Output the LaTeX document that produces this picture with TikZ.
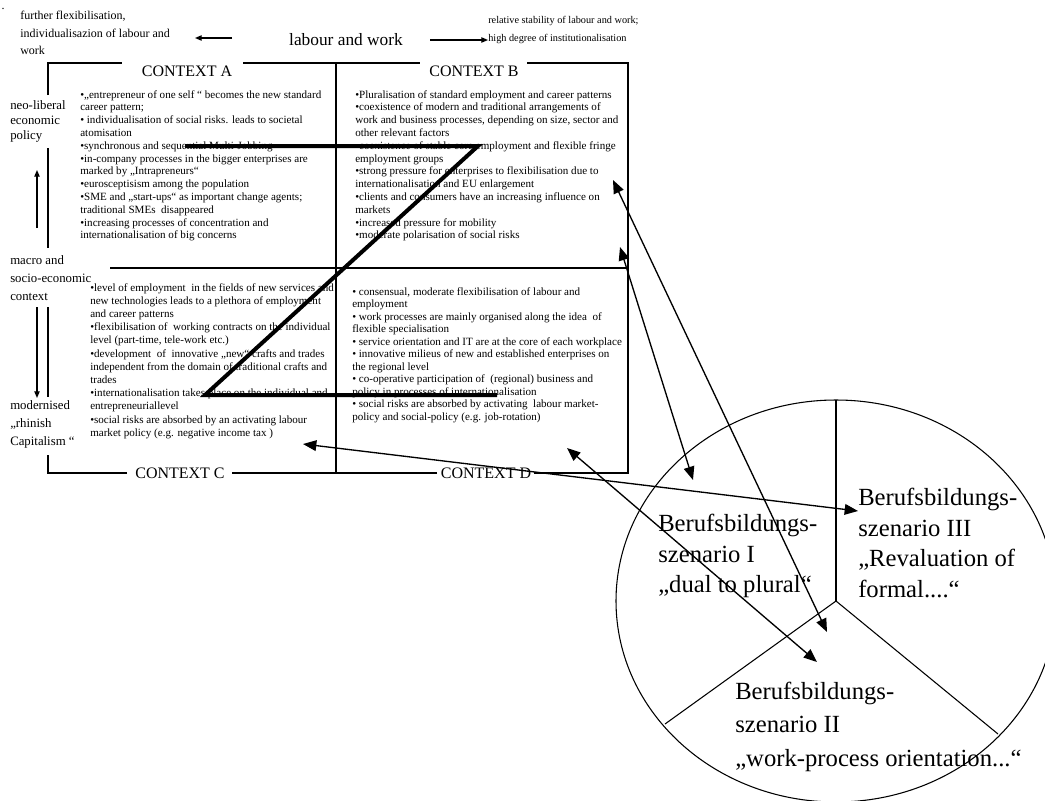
\documentclass[tikz,border=0pt]{standalone}
\usepackage{fontspec}
\setmainfont{Liberation Serif}
\usetikzlibrary{arrows.meta}

\tikzset{
  ctxText/.style={anchor=north west,inner sep=0pt,align=left,font=\fontsize{8.3}{9.6}\selectfont},
  ctxLabel/.style={inner sep=0pt,font=\fontsize{12}{14}\selectfont},
  sideText/.style={anchor=north west,inner sep=0pt,align=left,font=\fontsize{9.6}{13.5}\selectfont},
  topText/.style={anchor=north west,inner sep=0pt,align=left,font=\fontsize{9}{13}\selectfont},
  scenText/.style={anchor=north west,inner sep=0pt,align=left,font=\fontsize{18.5}{23}\selectfont},
  frameLine/.style={line width=1.2pt},
  smallArrow/.style={line width=0.9pt,-{Triangle[length=5pt,width=4pt]}},
  linkArrow/.style={line width=1pt,{Triangle[length=10pt,width=8pt]}-{Triangle[length=10pt,width=8pt]}}
}

\begin{document}
\begin{tikzpicture}[x=0.75pt,y=-0.75pt]
\useasboundingbox (0,0) rectangle (1045,800);

\node[inner sep=0pt,font=\fontsize{9}{10}\selectfont] (dot) at (3,9) {.};
\node[topText] (flexText) at (20,11) {further flexibilisation,\\individualisazion of labour and\\work};
\node[ctxLabel,font=\fontsize{13}{15}\selectfont] (labourWork) at (346,40) {labour and work};
\node[topText,font=\fontsize{7.7}{13.5}\selectfont] (stableText) at (488,16) {relative stability of labour and work;\\high degree of institutionalisation};
\coordinate (flexFrom) at (232,38);
\coordinate (flexTo) at (195,38);
\coordinate (stableFrom) at (430,40);
\coordinate (stableTo) at (488,40);
\draw[smallArrow] (flexFrom) -- (flexTo);
\draw[smallArrow] (stableFrom) -- (stableTo);

\node[ctxLabel] (ctxA) at (187,71) {CONTEXT A};
\node[ctxLabel] (ctxB) at (474,71) {CONTEXT B};
\node[ctxLabel] (ctxC) at (180,473) {CONTEXT C};
\node[ctxLabel] (ctxD) at (486,473) {CONTEXT D};

\draw[frameLine] (48,95) -- (48,63) -- (122,63);
\draw[frameLine] (243,63) -- (420,63);
\draw[frameLine] (527,63) -- (628,63) -- (628,473) -- (534,473);
\draw[frameLine] (437,473) -- (232,473);
\draw[frameLine] (127,473) -- (48,473) -- (48,455);
\draw[frameLine] (48,148) -- (48,248);
\draw[frameLine] (48,307) -- (48,397);
\draw[frameLine] (336,63) -- (336,473);
\draw[frameLine] (110,268) -- (628,268);

\node[sideText,font=\fontsize{9.6}{11.2}\selectfont] (neoLib) at (10,100) {neo-liberal\\economic\\policy};
\node[sideText] (macro) at (10,255) {macro and\\socio-economic\\context};
\node[sideText] (rhine) at (10,400) {modernised\\„rhinish\\Capitalism “};
\coordinate (upFrom) at (37,228);
\coordinate (upTo) at (37,170);
\coordinate (downFrom) at (37,307);
\coordinate (downTo) at (37,398);
\draw[smallArrow] (upFrom) -- (upTo);
\draw[smallArrow] (downFrom) -- (downTo);

\node[ctxText] (textA) at (80,90) {•„entrepreneur of one self “ becomes the new standard\\
career pattern;\\
• individualisation of social risks. leads to societal\\
atomisation\\
•synchronous and sequential Multi-Jobbing\\
•in-company processes in the bigger enterprises are\\
marked by „Intrapreneurs“\\
•eurosceptisism among the population\\
•SME and „start-ups“ as important change agents;\\
traditional SMEs\ \ disappeared\\
•increasing processes of concentration and\\
internationalisation of big concerns};
\node[ctxText] (textB) at (355,90) {•Pluralisation of standard employment and career patterns\\
•coexistence of modern and traditional arrangements of\\
work and business processes, depending on size, sector and\\
other relevant factors\\
•coexistence of stable core employment and flexible fringe\\
employment groups\\
•strong pressure for enterprises to flexibilisation due to\\
internationalisation and EU enlargement\\
•clients and consumers have an increasing influence on\\
markets\\
•increased pressure for mobility\\
•moderate polarisation of social risks};
\node[ctxText,font=\fontsize{8.3}{9.9}\selectfont] (textC) at (90,283) {•level of employment\ \ in the fields of new services and\\
new technologies leads to a plethora of employment\\
and career patterns\\
•flexibilisation of\ \ working contracts on the individual\\
level (part-time, tele-work etc.)\\
•development\ \ of\ \ innovative „new“ crafts and trades\\
independent from the domain of traditional crafts and\\
trades\\
•internationalisation takes place on the individual and\\
entrepreneuriallevel\\
•social risks are absorbed by an activating labour\\
market policy (e.g. negative income tax )};
\node[ctxText,font=\fontsize{8.3}{9.4}\selectfont] (textD) at (352,287) {• consensual, moderate flexibilisation of labour and\\
employment\\
• work processes are mainly organised along the idea\ \ of\\
flexible specialisation\\
• service orientation and IT are at the core of each workplace\\
• innovative milieus of new and established enterprises on\\
the regional level\\
• co-operative participation of\ \ (regional) business and\\
policy in processes of internationalisation\\
• social risks are absorbed by activating\ \ labour market-\\
policy and social-policy (e.g. job-rotation)};

\draw[line width=3pt] (185,146) -- (478,146) -- (205,395) -- (497,395);

\coordinate (ctr) at (836,601);
\draw[line width=0.8pt] (ctr) ellipse [x radius=165pt,y radius=150.75pt];
\draw[line width=0.8pt] (ctr) -- (836,400);
\draw[line width=0.8pt] (ctr) -- (665,724);
\draw[line width=0.8pt] (ctr) -- (998,734);

\node[scenText] (scenI) at (658,514) {Berufsbildungs-\\szenario I\\„dual to plural“};
\node[scenText] (scenIII) at (858,488) {Berufsbildungs-\\szenario III\\„Revaluation of\\formal....“};
\node[scenText,font=\fontsize{18.5}{25}\selectfont] (scenII) at (735,682) {Berufsbildungs-\\szenario II\\„work-process orientation...“};

\coordinate (tipC) at (303,444);
\coordinate (tipIII) at (858,511);
\coordinate (tipD) at (567,448);
\coordinate (tipIIa) at (817,662);
\coordinate (tipBa) at (613,180);
\coordinate (tipIIb) at (827,632);
\coordinate (tipBb) at (620,247);
\coordinate (tipI) at (693,480);
\draw[linkArrow] (tipC) -- (tipIII);
\draw[linkArrow] (tipD) -- (tipIIa);
\draw[linkArrow] (tipBa) -- (tipIIb);
\draw[linkArrow] (tipBb) -- (tipI);
\end{tikzpicture}
\end{document}
